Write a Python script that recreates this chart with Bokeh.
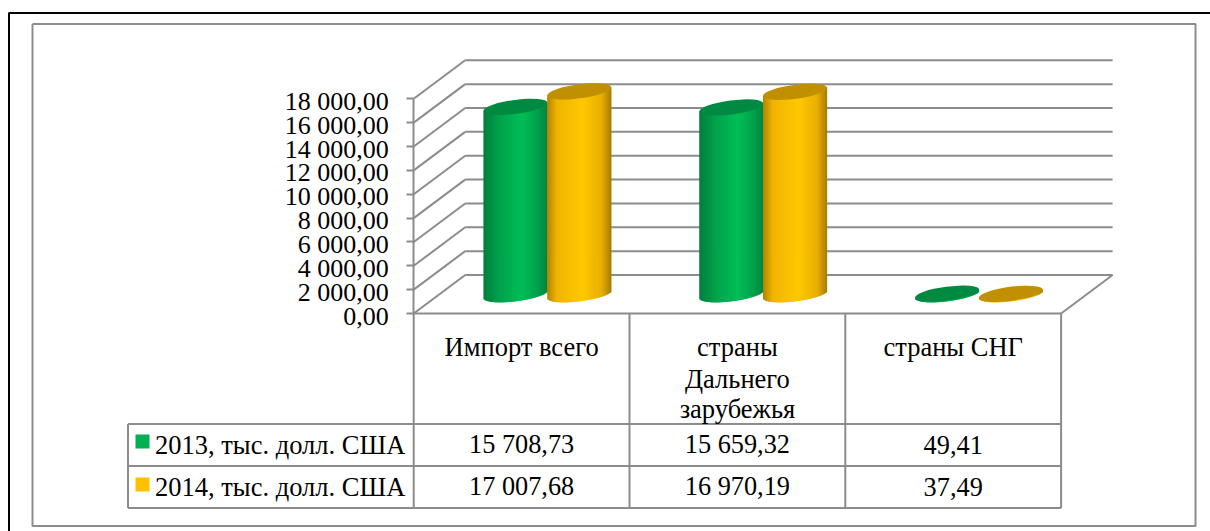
from bokeh.plotting import figure
from bokeh.embed import file_html
from bokeh.resources import INLINE
from bokeh.core.properties import value
from bokeh.models import FixedTicker, LinearAxis, Range1d
import math

# ---- data ----
categories = ["Импорт всего", "страны\nДальнего\nзарубежья", "страны СНГ"]
series_names = ["2013, тыс. долл. США", "2014, тыс. долл. США"]
values_2013 = [15708.73, 15659.32, 49.41]
values_2014 = [17007.68, 16970.19, 37.49]
tick_values = [0, 2000, 4000, 6000, 8000, 10000, 12000, 14000, 16000, 18000]
tick_labels = ["0,00", "2 000,00", "4 000,00", "6 000,00", "8 000,00", "10 000,00",
               "12 000,00", "14 000,00", "16 000,00", "18 000,00"]
swatch_colors = ["#00B050", "#FFC000"]
top_colors = ["#008A41", "#C09000"]
gradient_stops = [
    [(0.0, "#007F3C"), (0.25, "#00A24C"), (0.6, "#00BE58"), (0.85, "#00A04A"), (1.0, "#008540")],
    [(0.0, "#B08400"), (0.15, "#F0B400"), (0.55, "#FFC800"), (0.85, "#E8AE00"), (1.0, "#A67C00")],
]

# ---- layout in page pixels ----
PAGE_W, PAGE_H = 1210, 531
Y0, Y_TOP = 313.0, 98.3
PX = 18000.0 / (Y0 - Y_TOP)          # value per pixel


def vy(page_y):
    return (Y0 - page_y) * PX


X_L = 413.2
COL_W = 215.8
DEPTH_X, DEPTH_Y = 51.5, 38.5
BAR_HALF = 31.9
ELL_A, ELL_B, ELL_DEG = 32.3, 7.0, 7.5
GRAY = "#8C8C8C"
FONT = value("Liberation Serif")
LW = 2
LABEL_DROP = 2.5

p = figure(width=PAGE_W, height=PAGE_H, output_backend="svg", toolbar_location=None,
           x_range=(0, PAGE_W), y_range=(vy(PAGE_H), vy(0)), x_axis_location=None,
           min_border=0, outline_line_color=None, background_fill_color="white")
p.grid.visible = False

# value axis: line and ticks
ax = p.yaxis[0]
ax.fixed_location = X_L
ax.bounds = (0, 18000)
ax.ticker = FixedTicker(ticks=tick_values)
ax.major_label_text_font_size = "0px"
ax.major_label_overrides = {t: "" for t in tick_values}
ax.major_tick_out = 7
ax.major_tick_in = 0
ax.minor_tick_out = 0
ax.minor_tick_in = 0
ax.major_tick_line_color = GRAY
ax.major_tick_line_width = LW
ax.axis_line_color = GRAY
ax.axis_line_width = LW

# value axis: labels, set a little below their ticks as in the reference
p.extra_y_ranges = {"labels": Range1d(vy(PAGE_H) + LABEL_DROP * PX, vy(0) + LABEL_DROP * PX)}
lab = LinearAxis(y_range_name="labels", fixed_location=X_L, ticker=FixedTicker(ticks=tick_values))
lab.major_label_overrides = {t: s for t, s in zip(tick_values, tick_labels)}
lab.major_label_text_font = "Liberation Serif"
lab.major_label_text_font_size = "26px"
lab.major_label_text_color = "black"
lab.major_label_standoff = 25
lab.major_tick_out = 0
lab.major_tick_in = 0
lab.minor_tick_out = 0
lab.minor_tick_in = 0
lab.major_tick_line_color = None
lab.minor_tick_line_color = None
lab.axis_line_color = None
p.add_layout(lab, "left")

# outer frames
p.segment([8.5, 8], [vy(12.5), vy(12.5)], [8.5, PAGE_W], [vy(PAGE_H), vy(12.5)], line_color="black", line_width=2)
p.multi_line([[32, 1195, 1195, 32, 32]], [[vy(23.5), vy(23.5), vy(525.5), vy(525.5), vy(23.5)]],
             line_color=GRAY, line_width=2)

# 3-D walls
x_back = X_L + DEPTH_X
x_right = X_L + 3 * COL_W
p.segment([X_L] * len(tick_values), tick_values, [x_back] * len(tick_values),
          [t + DEPTH_Y * PX for t in tick_values], line_color=GRAY, line_width=LW)
p.segment([x_back] * len(tick_values), [t + DEPTH_Y * PX for t in tick_values],
          [x_right + DEPTH_X] * len(tick_values), [t + DEPTH_Y * PX for t in tick_values],
          line_color=GRAY, line_width=LW)
p.segment([x_right], [0], [x_right + DEPTH_X], [DEPTH_Y * PX], line_color=GRAY, line_width=LW)

# cylinders
th = math.radians(ELL_DEG)
A2 = (ELL_A * math.cos(th)) ** 2 + (ELL_B * math.sin(th)) ** 2
A = math.sqrt(A2)
slope = (ELL_A ** 2 - ELL_B ** 2) * math.sin(th) * math.cos(th) / A2
half_k = ELL_A * ELL_B / A


def lerp_color(stops, t):
    for (t0, c0), (t1, c1) in zip(stops, stops[1:]):
        if t <= t1:
            f = (t - t0) / (t1 - t0)
            a = [int(c0[i:i + 2], 16) for i in (1, 3, 5)]
            b = [int(c1[i:i + 2], 16) for i in (1, 3, 5)]
            return "#%02X%02X%02X" % tuple(round(u + (w - u) * f) for u, w in zip(a, b))
    return stops[-1][1]


base_v = 0.5 * DEPTH_Y * PX
for i in range(len(categories)):
    cx_mid = X_L + COL_W * (i + 0.5) + DEPTH_X / 2
    for s, vals in enumerate([values_2013, values_2014]):
        cx = cx_mid + (s * 2 - 1) * BAR_HALF
        val = vals[i]
        L, R, T, B, C = [], [], [], [], []
        n = 64
        for k in range(n):
            d0 = -A + 2 * A * k / n
            d1 = -A + 2 * A * (k + 1) / n
            dm = (d0 + d1) / 2
            h = half_k * math.sqrt(max(0.0, 1 - (dm / A) ** 2))
            L.append(cx + d0)
            R.append(cx + min(d1 + 1.0, A))      # overlap the next strip, no seams
            T.append(base_v + val + slope * dm * PX)
            B.append(base_v + (slope * dm - h) * PX)
            C.append(lerp_color(gradient_stops[s], (dm + A) / (2 * A)))
        p.quad(left=L, right=R, top=T, bottom=B, fill_color=C, line_color=None)
        p.ellipse(x=[cx], y=[base_v + val], width=[2 * ELL_A], height=[2 * ELL_B],
                  width_units="screen", height_units="screen", angle=[th],
                  fill_color=top_colors[s], line_color=None)

# data table
row_ys = [423.5, 465.5, 507.5]
x_legend = 127.5
col_xs = [X_L + COL_W * j for j in range(4)]
p.segment([col_xs[0]], [0], [col_xs[3]], [0], line_color=GRAY, line_width=LW)
p.segment([x_legend] * 3, [vy(y) for y in row_ys], [col_xs[3]] * 3, [vy(y) for y in row_ys],
          line_color=GRAY, line_width=LW)
p.segment(col_xs, [0] * 4, col_xs, [vy(row_ys[2])] * 4, line_color=GRAY, line_width=LW)
p.segment([x_legend], [vy(row_ys[0])], [x_legend], [vy(row_ys[2])], line_color=GRAY, line_width=LW)

BASE_FIX = 9
cat_baselines = [355, 387, 417]
for j, name in enumerate(categories):
    for ln, part in enumerate(name.split("\n")):
        p.text(x=[X_L + COL_W * (j + 0.5)], y=[vy(cat_baselines[ln] - BASE_FIX)], text=[part], text_font=FONT,
               text_font_size="26.5px", text_color="black", text_align="center", text_baseline="alphabetic")


def fmt(v):
    whole, frac = f"{v:.2f}".split(".")
    if len(whole) > 3:
        whole = whole[:-3] + " " + whole[-3:]
    return whole + "," + frac


row_baselines = [453, 495]
swatch_tops = [434, 477]
for s, vals in enumerate([values_2013, values_2014]):
    p.quad(left=[135], right=[149], top=[vy(swatch_tops[s])], bottom=[vy(swatch_tops[s] + 14)],
           fill_color=swatch_colors[s], line_color=None)
    p.text(x=[154.5], y=[vy(row_baselines[s] - BASE_FIX)], text=[series_names[s]], text_font=FONT,
           text_font_size="26.5px", text_color="black", text_align="left", text_baseline="alphabetic")
    for j, v in enumerate(vals):
        p.text(x=[X_L + COL_W * (j + 0.5)], y=[vy(row_baselines[s] - BASE_FIX)], text=[fmt(v)], text_font=FONT,
               text_font_size="26.3px", text_color="black", text_align="center", text_baseline="alphabetic")

open("out.html", "w").write(file_html(p, INLINE))
